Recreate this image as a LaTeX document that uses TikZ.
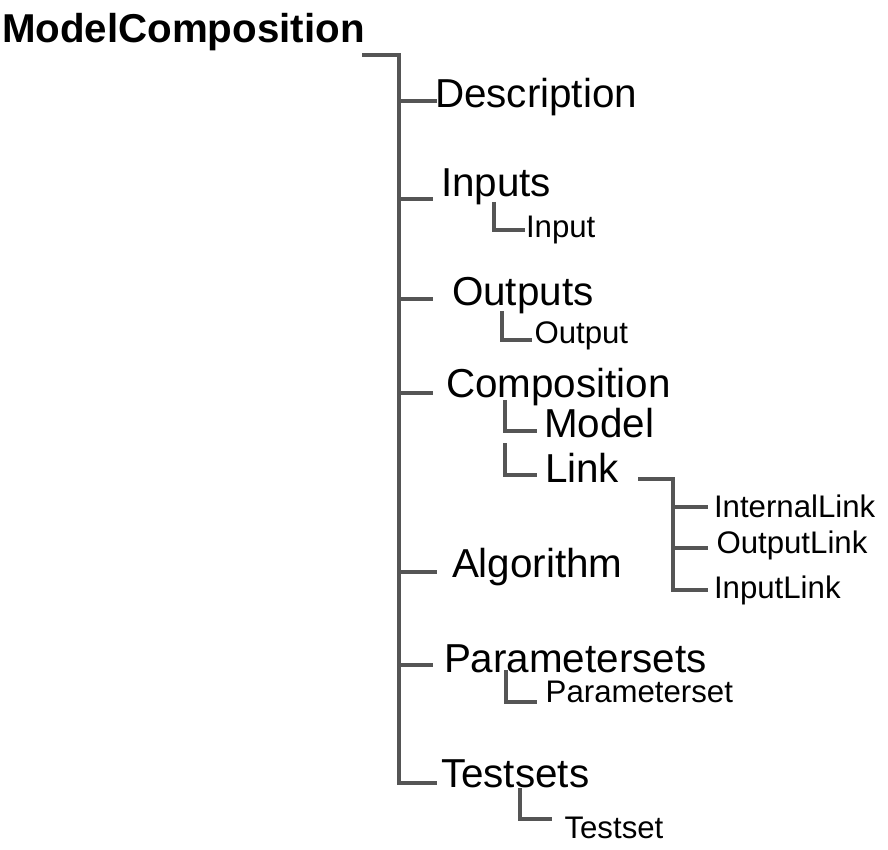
\documentclass[tikz,border=0pt]{standalone}
\usepackage{fontspec}
\setmainfont{Liberation Sans}
\definecolor{linegray}{RGB}{85,85,85}
\begin{document}
\begin{tikzpicture}[x=1pt,y=-1pt,
  conn/.style={draw=linegray,line width=4pt,line join=miter},
  txt/.style={anchor=base west,inner sep=0pt,outer sep=0pt},
  bigtxt/.style={txt,font=\fontsize{40.4}{41}\selectfont},
  smalltxt/.style={txt,font=\fontsize{31.2}{32}\selectfont},
  roottxt/.style={txt,font=\fontsize{40.3}{41}\selectfont\bfseries}]
\useasboundingbox (0,0) rectangle (888,850);
% texts
\node[roottxt] (root) at (2,43) {ModelComposition};
\node[bigtxt] (desc) at (435,108) {Description};
\node[bigtxt] (inputs) at (441,197) {Inputs};
\node[smalltxt] (input) at (526,238) {Input};
\node[bigtxt] (outputs) at (452,305) {Outputs};
\node[smalltxt] (output) at (534.5,343) {Output};
\node[bigtxt] (comp) at (446,397) {Composition};
\node[bigtxt] (model) at (544,437) {Model};
\node[bigtxt] (link) at (545,482) {Link};
\node[smalltxt] (ilink) at (714,517) {InternalLink};
\node[smalltxt] (olink) at (716.5,553) {OutputLink};
\node[smalltxt] (inlink) at (714,598) {InputLink};
\node[bigtxt] (algo) at (452,577) {Algorithm};
\node[bigtxt] (psets) at (444,672) {Parametersets};
\node[smalltxt] (pset) at (545.7,702) {Parameterset};
\node[bigtxt] (tsets) at (441,787) {Testsets};
\node[smalltxt] (tset) at (564.5,838) {Testset};
% joints
\coordinate (r0) at (362,55);
\coordinate (r1) at (399,55);
\coordinate (tb) at (399,783);
\coordinate (tbe) at (437,783);
\coordinate (bd0) at (399,101); \coordinate (bd1) at (437,101);
\coordinate (bi0) at (399,199); \coordinate (bi1) at (433,199);
\coordinate (bo0) at (399,299); \coordinate (bo1) at (433,299);
\coordinate (bc0) at (399,393); \coordinate (bc1) at (433,393);
\coordinate (ba0) at (399,572); \coordinate (ba1) at (437,572);
\coordinate (bp0) at (399,665); \coordinate (bp1) at (433,665);
\coordinate (si0) at (494,202); \coordinate (si1) at (525,230);
\coordinate (so0) at (502,311); \coordinate (so1) at (532,340);
\coordinate (sm0) at (505,400); \coordinate (sm1) at (537,431);
\coordinate (sl0) at (505,443); \coordinate (sl1) at (537,475);
\coordinate (lk0) at (638,479); \coordinate (lk1) at (673,479);
\coordinate (lkb) at (673,590);
\coordinate (lka) at (673,507); \coordinate (lkae) at (708,507);
\coordinate (lkc) at (673,548); \coordinate (lkce) at (708,548);
\coordinate (lkbe) at (708,590);
\coordinate (sp0) at (506,670); \coordinate (sp1) at (537,702);
\coordinate (st0) at (520,788); \coordinate (st1) at (552,819);
% main trunk
\draw[conn] (r0) -- (r1) -- (tb) -- (tbe);
\draw[conn] (bd0) -- (bd1);
\draw[conn] (bi0) -- (bi1);
\draw[conn] (bo0) -- (bo1);
\draw[conn] (bc0) -- (bc1);
\draw[conn] (ba0) -- (ba1);
\draw[conn] (bp0) -- (bp1);
% sub elbows
\draw[conn] (si0) |- (si1);
\draw[conn] (so0) |- (so1);
\draw[conn] (sm0) |- (sm1);
\draw[conn] (sl0) |- (sl1);
\draw[conn] (sp0) |- (sp1);
\draw[conn] (st0) |- (st1);
% link subtree
\draw[conn] (lk0) -- (lk1) -- (lkb) -- (lkbe);
\draw[conn] (lka) -- (lkae);
\draw[conn] (lkc) -- (lkce);
\end{tikzpicture}
\end{document}
